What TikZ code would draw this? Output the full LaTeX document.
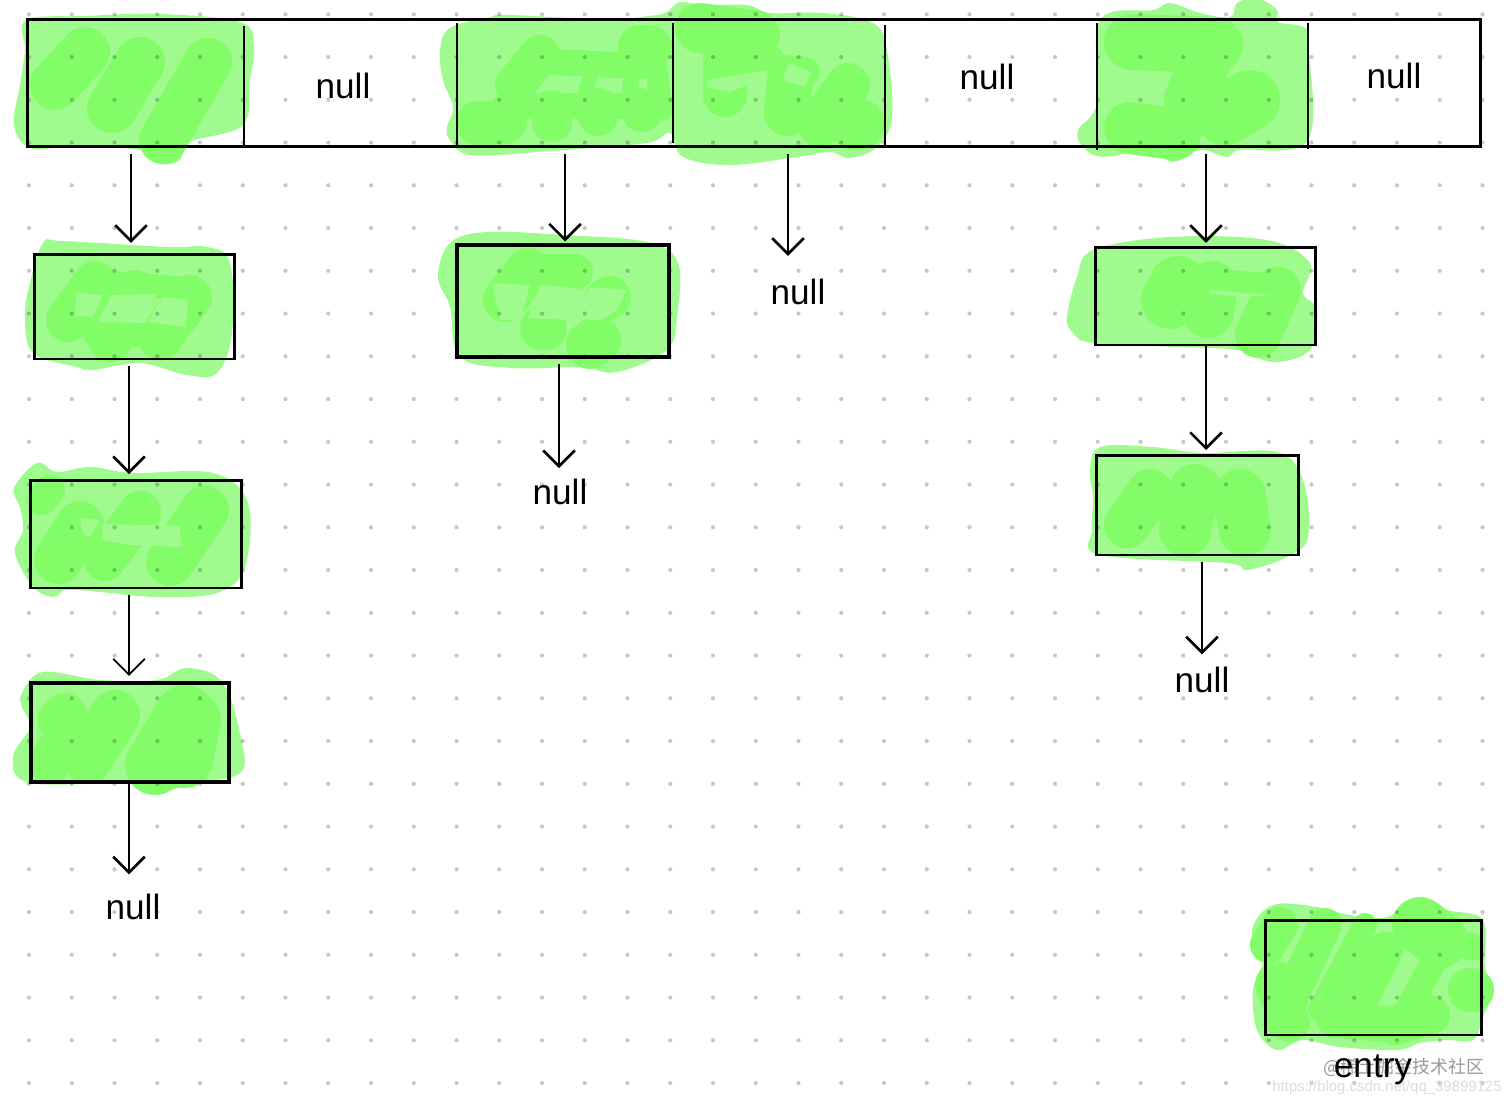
\documentclass[tikz,border=0pt]{standalone}
\usepackage{fontspec}
\setmainfont{Liberation Sans}
\newfontfamily\cjk{Noto Sans CJK SC}
\usetikzlibrary{arrows.meta}
\definecolor{hllight}{HTML}{A0FB8F}
\definecolor{hldark}{HTML}{82FD68}
\tikzset{
  blob/.style={fill=hllight},
  hl/.style={draw=hldark,line width=#1*0.02cm,line cap=round,line join=round},
  hl/.default=40,
  griddot/.style={fill=black,opacity=0.22},
  entrybox/.style={draw,line width=1.7pt,inner sep=0pt},
  nulltext/.style={inner sep=0pt,font=\fontsize{20}{24}\selectfont},
  link/.style={draw,line width=1.5pt,-{Straight Barb[length=9pt,width=18pt]},shorten <=3pt},
}
\begin{document}
\begin{tikzpicture}[x=0.02cm,y=-0.02cm]
      \useasboundingbox (0,0) rectangle (1512,1106);
%
      % table cells
      \path[blob] plot[smooth cycle,tension=.6] coordinates {(26,20) (85,16) (160,14) (240,22) (254,45) (250,80) (243,125) (190,142) (180,160) (160,164) (142,150) (70,147) (30,148) (14,125) (20,85) (25,50)};
      \path[blob] plot[smooth cycle,tension=.6] coordinates {(440,50) (450,28) (490,17) (510,15) (617,20) (640,17) (665,13) (680,2) (703,5) (747,5) (770,13) (823,13) (873,23) (887,50) (892,117) (877,147) (850,158) (830,152) (797,157) (730,165) (683,157) (670,133) (647,143) (563,150) (473,155) (450,140) (447,127) (453,107) (443,80)};
      \path[blob] plot[smooth cycle,tension=.6] coordinates {(1078,130) (1097,103) (1100,20) (1153,10) (1170,3) (1200,13) (1230,17) (1237,3) (1257,-2) (1277,10) (1278,22) (1303,27) (1308,43) (1308,140) (1240,150) (1227,157) (1200,150) (1173,162) (1147,150) (1103,157) (1083,147)};
%
      % boxes
      \path[blob] plot[smooth cycle,tension=.6] coordinates {(43,243) (63,241) (167,247) (207,247) (230,263) (232,333) (217,373) (187,375) (140,363) (93,370) (77,367) (33,353) (25,317) (30,283)};
      \path[blob] plot[smooth cycle,tension=.6] coordinates {(14,488) (37,463) (57,472) (90,467) (133,473) (213,473) (248,503) (245,567) (217,593) (157,597) (100,592) (67,590) (53,597) (33,587) (15,553) (23,530) (20,507)};
      \path[blob] plot[smooth cycle,tension=.6] coordinates {(22,693) (43,672) (100,680) (157,680) (187,668) (223,683) (242,743) (240,773) (197,783) (157,792) (133,783) (30,783) (13,757) (30,727) (22,707)};
      \path[blob] plot[smooth cycle,tension=.6] coordinates {(438,277) (450,243) (487,232) (563,235) (647,242) (678,263) (677,317) (667,350) (617,372) (580,367) (513,368) (460,357) (450,307)};
      \path[blob] plot[smooth cycle,tension=.6] coordinates {(1067,317) (1077,277) (1093,250) (1170,237) (1267,240) (1310,263) (1303,293) (1317,310) (1310,350) (1273,362) (1237,350) (1177,347) (1093,343) (1073,333)};
      \path[blob] plot[smooth cycle,tension=.6] coordinates {(1090,470) (1100,447) (1153,447) (1203,453) (1277,452) (1303,480) (1308,537) (1287,557) (1247,570) (1227,563) (1100,555) (1092,530) (1093,497)};
      \path[blob] plot[smooth cycle,tension=.6] coordinates {(1252,930) (1273,905) (1317,907) (1350,915) (1387,917) (1417,898) (1447,910) (1483,920) (1485,967) (1493,990) (1483,1017) (1473,1040) (1447,1040) (1420,1043) (1397,1050) (1340,1047) (1303,1040) (1277,1050) (1257,1030) (1253,990) (1263,960)};
%
      % scribbles, first cell
      \path[hl=50] (85,52) -- (55,85);
      \path[hl=50] (140,62) -- (112,108);
      \path[hl=48] (208,62) -- (163,140);
%
      % third cell
      \path[hl=44] (478,123) -- (505,122);
      \path[hl] (540,55) -- (515,85);
      \path[hl] (552,110) -- (552,122);
      \path[hl] (598,108) -- (598,116);
      \path[hl] (640,108) -- (642,112);
      \path[hl=26] (550,62) -- (640,66);
      \path[hl=26] (505,106) -- (660,106);
      \path[hl=44] (640,47) -- (650,47);
      \path[hl=22] (655,60) -- (662,110);
      \path[hl=14] (520,72) -- (515,90);
      \path[hl=14] (592,72) -- (585,92);
      \path[hl=16] (632,68) -- (630,92);
%
      % fourth cell
      \path[hl=50] (700,28) -- (755,35);
      \path[hl=44] (725,52) -- (725,95);
      \path[hl=26] (720,62) -- (770,58);
      \fill[hllight] (707,80) -- (767,70) -- (760,80) -- (730,92) -- (707,87) -- cycle;
      \path[hl=46] (790,80) -- (787,113);
      \path[hl=30] (785,70) -- (805,72);
      \path[hl=44] (848,85) -- (820,125);
      \path[hl=50] (860,124) -- (855,125);
      \fill[hllight] (788,63) -- (812,72) -- (805,87) -- (783,80) -- cycle;
%
      % sixth cell
      \path[hl=56] (1132,42) -- (1215,45);
      \path[hl=52] (1205,60) -- (1190,100);
      \path[hl=60] (1250,100) -- (1225,115);
      \path[hl=52] (1130,128) -- (1175,134);
%
      % first column
      \path[hl=44] (95,283) -- (68,320);
      \path[hl=44] (135,292) -- (110,340);
      \path[hl=44] (190,297) -- (160,338);
      \path[hl=24] (115,283) -- (175,288);
      \path[hl=24] (95,335) -- (165,335);
      \fill[hllight] (77,293) -- (103,295) -- (93,317) -- (75,316) -- cycle;
      \fill[hllight] (112,295) -- (157,294) -- (145,323) -- (98,322) -- cycle;
      \fill[hllight] (163,297) -- (188,300) -- (186,327) -- (148,322) -- cycle;
%
      \path[hl=30] (50,490) -- (42,500);
      \path[hl=48] (80,525) -- (58,560);
      \path[hl=42] (140,512) -- (105,560);
      \path[hl=48] (205,510) -- (170,562);
      \fill[hllight] (102,524) -- (180,526) -- (181,547) -- (130,545) -- (102,540) -- cycle;
      \fill[hllight] (80,518) -- (100,520) -- (90,537) -- (83,534) -- cycle;
%
      \path[hl=44] (65,715) -- (60,720);
      \path[hl=42] (60,745) -- (50,763);
      \path[hl=50] (115,715) -- (88,758);
      \path[hl=60] (185,715) -- (155,765);
      \path[hl=56] (193,720) -- (185,760);
%
      % second column
      \path[hl=44] (528,270) -- (505,300);
      \path[hl=36] (540,272) -- (575,272);
      \path[hl=44] (542,328) -- (545,328);
      \path[hl=48] (597,340) -- (590,345);
      \path[hl=42] (610,297) -- (605,300);
      \fill[hllight] (492,283) -- (530,285) -- (520,320) -- (500,320) -- cycle;
      \fill[hllight] (540,285) -- (577,288) -- (570,320) -- (528,318) -- cycle;
      \fill[hllight] (590,287) -- (627,290) -- (615,312) -- (600,320) -- (572,318) -- cycle;
%
      % fourth column
      \path[hl=58] (1178,285) -- (1170,300);
      \path[hl=52] (1212,287) -- (1208,312);
      \path[hl=46] (1278,290) -- (1258,335);
      \path[hl=24] (1230,282) -- (1270,285);
      \fill[hllight] (1210,290) -- (1272,295) -- (1240,297) -- (1212,294) -- cycle;
%
      \path[hl=46] (1150,492) -- (1127,525);
      \path[hl=52] (1195,490) -- (1185,530);
      \path[hl=52] (1240,495) -- (1245,530);
      \path[hl=24] (1165,505) -- (1230,505);
%
      % entry
      \path[hl=36] (1280,925) -- (1268,945);
      \path[hl=34] (1325,925) -- (1287,1005);
      \path[hl=24] (1365,925) -- (1320,1010);
      \path[hl=56] (1420,925) -- (1440,940);
      \path[hl=26] (1470,945) -- (1472,948);
      \path[hl=26] (1440,950) -- (1405,1015);
      \path[hl=36] (1385,950) -- (1355,1010);
      \path[hl=46] (1278,985) -- (1285,1000);
      \path[hl=40] (1285,1020) -- (1290,1022);
      \path[hl=36] (1335,1020) -- (1395,1025);
      \path[hl=40] (1395,1025) -- (1430,1015);
      \path[hl=44] (1470,990) -- (1472,990);
%
      % dots
      \foreach \i in {0,...,34}
        \foreach \j in {0,...,25}
          \fill[griddot] ({29+42.75*\i},{14.3+42.75*\j}) circle (1.2pt);
%
      \node[entrybox,minimum width=29.08cm,minimum height=2.56cm] (table) at (754,83) {};
      \foreach \x/\top/\bot in {244/26/147,457/23/147,673/23/143,885/25/147,1097/23/150,1308/23/149}
        \draw[line width=1.5pt] (\x,\top) -- (\x,\bot);
      \node[nulltext] (nullb) at (343,86) {null};
      \node[nulltext] (nulle) at (987,77) {null};
      \node[nulltext] (nullg) at (1394,76) {null};
%
      \node[entrybox,minimum width=4.02cm,minimum height=2.1cm] (boxa) at (134.5,306.5) {};
      \node[entrybox,minimum width=4.22cm,minimum height=2.16cm] (boxb) at (136,534) {};
      \node[entrybox,line width=2pt,minimum width=3.96cm,minimum height=1.98cm] (boxc) at (130,732.5) {};
      \node[nulltext] (nulla) at (133,907) {null};
%
      \node[entrybox,line width=2pt,minimum width=4.24cm,minimum height=2.24cm] (boxd) at (563,301) {};
      \node[nulltext] (nulld) at (560,492) {null};
      \node[nulltext] (nullf) at (798,292) {null};
%
      \node[entrybox,minimum width=4.42cm,minimum height=1.96cm] (boxe) at (1205.5,296) {};
      \node[entrybox,minimum width=4.06cm,minimum height=2cm] (boxf) at (1197.5,505) {};
      \node[nulltext] (nullh) at (1202,680) {null};
%
      \node[entrybox,minimum width=4.34cm,minimum height=2.3cm] (boxg) at (1373.5,977.5) {};
%
      \coordinate (cola) at (131,0);
      \coordinate (colb) at (129,0);
      \coordinate (colc) at (565,0);
      \coordinate (cold) at (559,0);
      \coordinate (cole) at (788,0);
      \coordinate (colf) at (1206,0);
      \coordinate (colg) at (1202,0);
%
      \draw[link,shorten >=5.5pt] (table.south -| cola) -- (boxa.north -| cola);
      \draw[link,shorten >=2.5pt] (boxa.south -| colb) -- (boxb.north -| colb);
      \draw[link,line width=1.1pt,shorten >=3pt] (boxb.south -| colb) -- (boxc.north -| colb);
      \draw[link,shorten <=0pt,shorten >=11pt] (boxc.south -| colb) -- (nulla.north -| colb);
      \draw[link,shorten >=1pt] (table.south -| colc) -- (boxd.north -| colc);
      \draw[link,shorten >=6pt] (boxd.south -| cold) -- (nulld.north -| cold);
      \draw[link,shorten >=13pt] (table.south -| cole) -- (nullf.north -| cole);
      \draw[link,shorten >=1.5pt] (table.south -| colf) -- (boxe.north -| colf);
      \draw[link,shorten <=0pt,shorten >=2pt] (boxe.south -| colf) -- (boxf.north -| colf);
      \draw[link,shorten >=7pt] (boxf.south -| colg) -- (nullh.north -| colg);
%
      \node[inner sep=0pt,text=black!40,font=\cjk\fontsize{10.2}{12}\selectfont] (mark) at (1404,1067) {@稀土掘金技术社区};
      \node[inner sep=0pt,text=black!14,font=\fontsize{8.5}{10}\selectfont] (url) at (1387,1088) {https://blog.csdn.net/qq\_39899125};
      \node[nulltext] (entry) at (1373,1070) {entry};
%
      \end{tikzpicture}
\end{document}
